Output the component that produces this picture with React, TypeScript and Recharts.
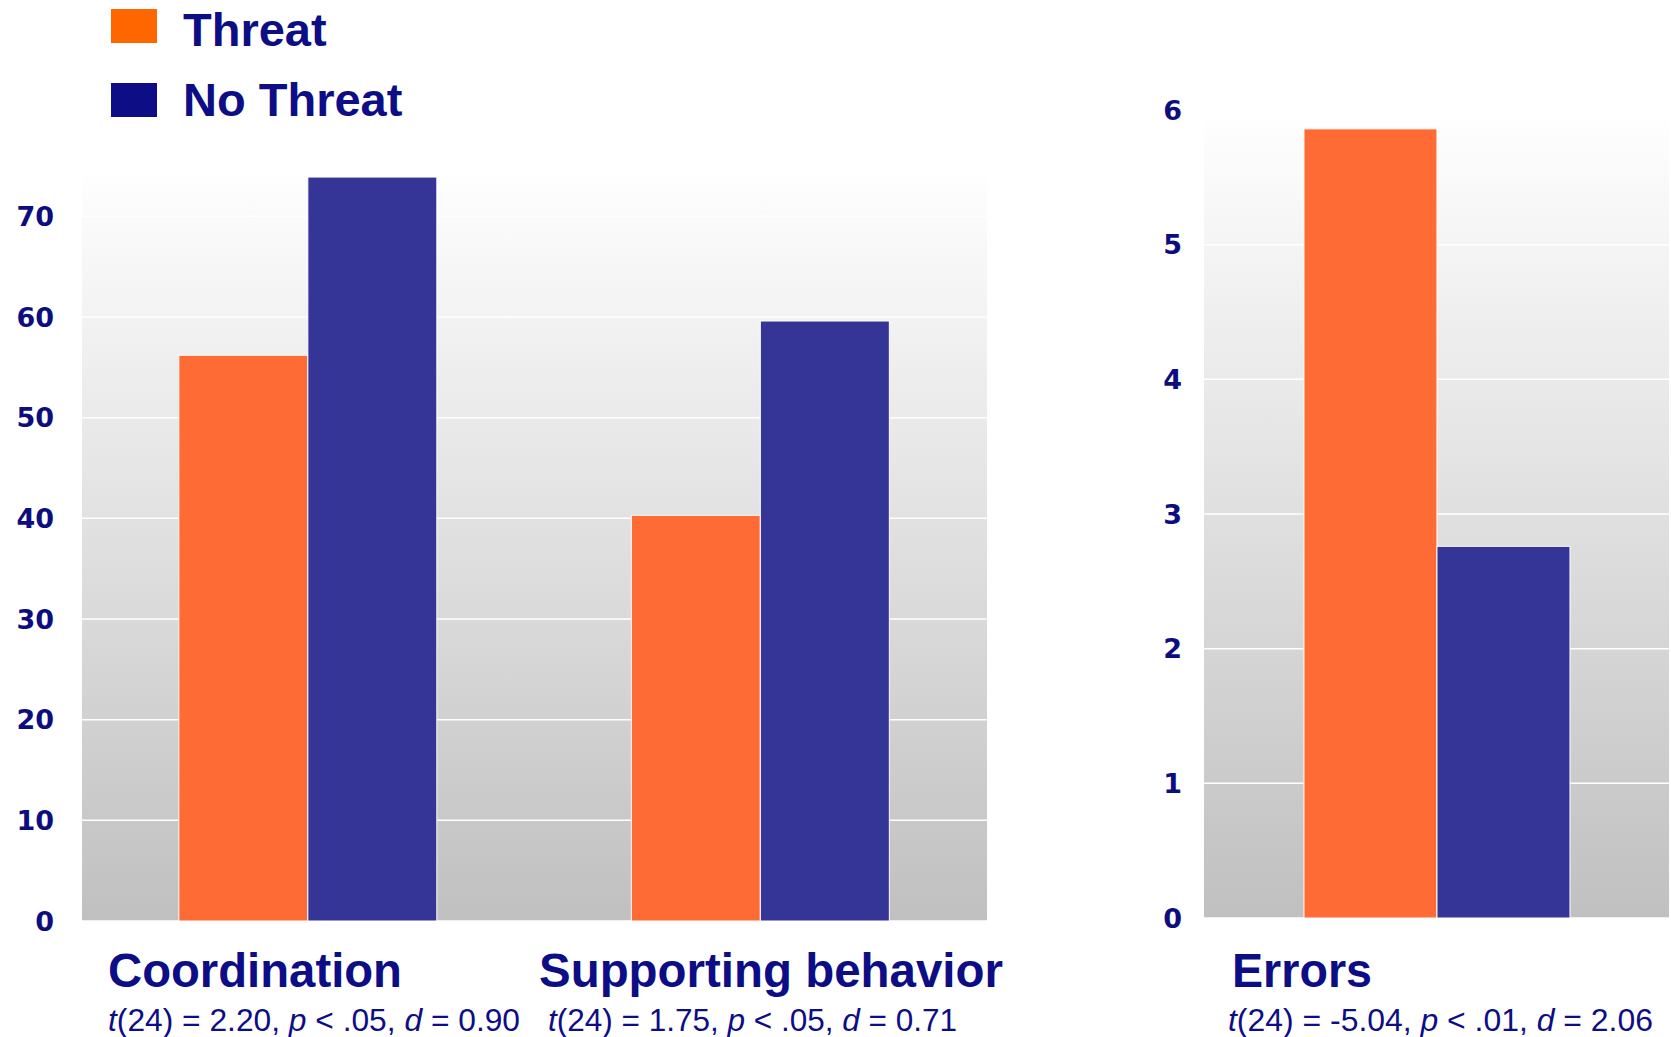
import { BarChart, Bar, XAxis, YAxis, CartesianGrid } from 'recharts';

// values
const seriesNames = ['Threat', 'No Threat'];
const mainCategories = ['Coordination', 'Supporting behavior'];
const mainThreat = [56.2, 40.3];
const mainNoThreat = [73.9, 59.6];
const mainTicks = [0, 10, 20, 30, 40, 50, 60, 70];

const errorCategories = ['Errors'];
const errorThreat = [5.86];
const errorNoThreat = [2.76];
const errorTicks = [0, 1, 2, 3, 4, 5, 6];

const statT = ['2.20', '1.75', '-5.04'];
const statP = ['.05', '.05', '.01'];
const statD = ['0.90', '0.71', '2.06'];

const NAVY = '#0d0d80';
const BAR_ORANGE = '#ff6b35';
const BAR_BLUE = '#353598';
const KEY_ORANGE = '#ff6600';
const KEY_BLUE = '#0d0d85';
const FONT = '"Liberation Sans", Arial, sans-serif';

const mainData = mainCategories.map((name, i) => ({
  name,
  threat: mainThreat[i],
  noThreat: mainNoThreat[i],
}));

const errorData = errorCategories.map((name, i) => ({
  name,
  threat: errorThreat[i],
  noThreat: errorNoThreat[i],
}));

const tickStyle = { fontSize: 27, fontWeight: 700, fill: NAVY, fontFamily: '"DejaVu Sans", Verdana, sans-serif' };

// text boxes under the plots: category name (x, w) and stats line (sx, sw)
const labelBoxes = [
  { x: 108, w: 294, sx: 108, sw: 412 },
  { x: 539, w: 464, sx: 548, sw: 409 },
  { x: 1232, w: 140, sx: 1228, sw: 425 },
];

export default function App() {
  const allCategories = [...mainCategories, ...errorCategories];
  return (
    <div style={{ position: 'absolute', left: 0, top: 0, width: 1671, height: 1037, background: '#fff', fontFamily: FONT }}>
      <svg width={0} height={0} style={{ position: 'absolute' }}>
        <defs>
          <linearGradient id="plotBg" x1="0" y1="0" x2="0" y2="1">
            <stop offset="0%" stopColor="#ffffff" />
            <stop offset="100%" stopColor="#c0c0c0" />
          </linearGradient>
        </defs>
      </svg>

      <div style={{ position: 'absolute', left: 0, top: 0 }}>
        <BarChart
          width={990}
          height={1037}
          data={mainData}
          margin={{ top: 166, right: 3, bottom: 116, left: 0 }}
          barCategoryGap="21.4%"
          barGap={0}
        >
          <CartesianGrid vertical={false} stroke="#ffffff" strokeWidth={1.5} fill="url(#plotBg)" fillOpacity={1} />
          <XAxis dataKey="name" hide />
          <YAxis
            width={82}
            domain={[0, 75]}
            ticks={mainTicks}
            axisLine={false}
            tickLine={false}
            tickSize={0}
            tickMargin={28}
            tick={tickStyle}
          />
          <Bar dataKey="threat" name={seriesNames[0]} fill={BAR_ORANGE} stroke="#fff" strokeWidth={1} isAnimationActive={false} />
          <Bar dataKey="noThreat" name={seriesNames[1]} fill={BAR_BLUE} stroke="#fff" strokeWidth={1} isAnimationActive={false} />
        </BarChart>
      </div>

      <div style={{ position: 'absolute', left: 1100, top: 0 }}>
        <BarChart
          width={571}
          height={1037}
          data={errorData}
          margin={{ top: 110, right: 2, bottom: 119, left: 0 }}
          barCategoryGap="21.5%"
          barGap={0}
        >
          <CartesianGrid vertical={false} stroke="#ffffff" strokeWidth={1.5} fill="url(#plotBg)" fillOpacity={1} />
          <XAxis dataKey="name" hide />
          <YAxis
            width={104}
            domain={[0, 6]}
            ticks={errorTicks}
            axisLine={false}
            tickLine={false}
            tickSize={0}
            tickMargin={22}
            tick={tickStyle}
          />
          <Bar dataKey="threat" name={seriesNames[0]} fill={BAR_ORANGE} stroke="#fff" strokeWidth={1} isAnimationActive={false} />
          <Bar dataKey="noThreat" name={seriesNames[1]} fill={BAR_BLUE} stroke="#fff" strokeWidth={1} isAnimationActive={false} />
        </BarChart>
      </div>

      {/* legend and text boxes */}
      <svg width={1671} height={1037} style={{ position: 'absolute', left: 0, top: 0, pointerEvents: 'none' }}>
        <rect x={111} y={9} width={46} height={34} fill={KEY_ORANGE} />
        <rect x={111} y={83} width={46} height={34} fill={KEY_BLUE} />
        <text x={183} y={46} fontSize={47} fontWeight={700} fill={KEY_BLUE} fontFamily={FONT}>
          {seriesNames[0]}
        </text>
        <text x={183} y={116} fontSize={47} fontWeight={700} fill={KEY_BLUE} fontFamily={FONT}>
          {seriesNames[1]}
        </text>

        {allCategories.map((name, i) => (
          <g key={name}>
            <text
              x={labelBoxes[i].x}
              y={987}
              fontSize={47.5}
              fontWeight={700}
              fill={KEY_BLUE}
              fontFamily={FONT}
              textLength={labelBoxes[i].w}
              lengthAdjust="spacingAndGlyphs"
            >
              {name}
            </text>
            <text
              x={labelBoxes[i].sx}
              y={1031}
              fontSize={31}
              fill={KEY_BLUE}
              fontFamily={FONT}
              textLength={labelBoxes[i].sw}
              lengthAdjust="spacingAndGlyphs"
            >
              <tspan fontStyle="italic">t</tspan>
              <tspan>{`(24) = ${statT[i]}, `}</tspan>
              <tspan fontStyle="italic">p</tspan>
              <tspan>{` < ${statP[i]}, `}</tspan>
              <tspan fontStyle="italic">d</tspan>
              <tspan>{` = ${statD[i]}`}</tspan>
            </text>
          </g>
        ))}
      </svg>
    </div>
  );
}
